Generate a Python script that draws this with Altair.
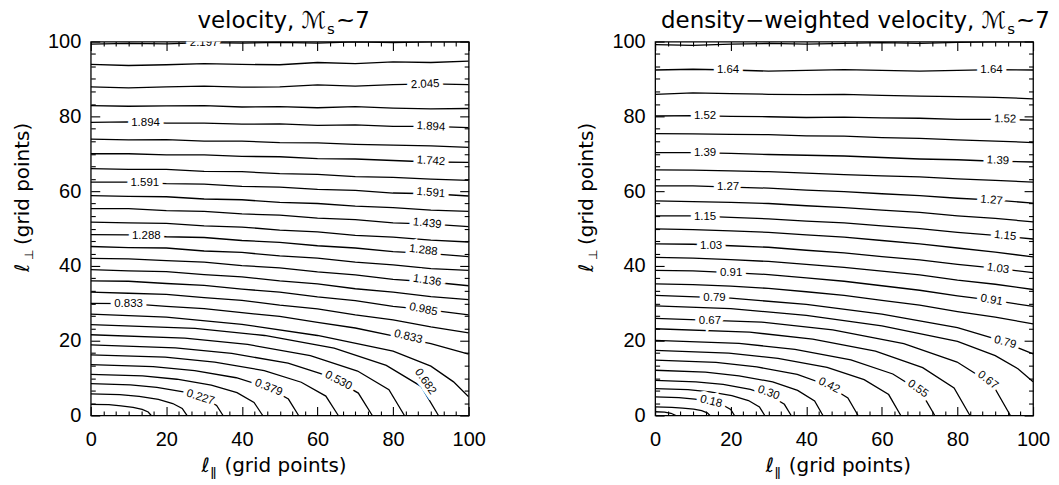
import altair as alt
import pandas as pd

W, H = 379, 375
NUM_FONT = "Liberation Sans, DejaVu Sans"
TXT_FONT = "DejaVu Sans"

X_GRID = [0, 10, 20, 30, 40, 50, 60, 70, 80, 90, 100]

# ---------------- left panel: velocity ----------------
VEL_FULL_Y = {
    29: [99.3, 99.5, 99.4, 99.7, 99.6, 99.8, 99.6, 99.9, 99.7, 99.9, 99.9],
    28: [93.9, 93.6, 93.8, 94.1, 93.9, 93.8, 94.4, 94.1, 94.6, 94.4, 94.8],
    27: [87.9, 87.6, 87.9, 88.1, 87.8, 87.9, 88.4, 88.1, 88.5, 88.7, 88.5],
    26: [82.9, 82.7, 82.8, 82.9, 82.5, 82.6, 82.3, 82.6, 82.2, 82.0, 82.1],
    25: [78.4, 78.5, 78.2, 78.2, 77.9, 78.0, 77.6, 77.7, 77.3, 77.3, 77.0],
    24: [73.9, 73.7, 73.8, 73.4, 73.4, 73.0, 72.9, 72.5, 72.3, 72.1, 71.7],
    23: [70.0, 70.0, 69.7, 69.7, 69.3, 69.2, 68.7, 68.6, 68.2, 67.8, 67.7],
    22: [66.0, 65.8, 65.8, 65.3, 65.2, 64.7, 64.5, 63.9, 63.7, 63.2, 62.9],
    21: [62.4, 62.4, 62.0, 61.9, 61.3, 61.1, 60.5, 60.2, 59.5, 59.3, 58.7],
    20: [58.8, 58.6, 58.5, 57.9, 57.7, 57.0, 56.7, 56.0, 55.6, 54.9, 54.6],
    19: [55.3, 55.3, 54.8, 54.6, 53.9, 53.6, 52.8, 52.4, 51.5, 51.2, 50.5],
    18: [51.7, 51.5, 51.4, 50.7, 50.4, 49.6, 49.1, 48.2, 47.7, 46.9, 46.4],
    17: [48.4, 48.3, 47.8, 47.6, 46.8, 46.3, 45.4, 44.8, 43.8, 43.3, 42.5],
    16: [45.2, 44.9, 44.8, 44.0, 43.6, 42.7, 42.1, 41.0, 40.3, 39.3, 38.8],
    15: [42.0, 41.9, 41.4, 41.0, 40.1, 39.5, 38.4, 37.6, 36.4, 35.7, 34.7],
    14: [39.0, 38.7, 38.5, 37.7, 37.1, 36.0, 35.2, 33.9, 33.0, 31.8, 31.0],
    13: [36.0, 35.9, 35.3, 34.8, 33.8, 33.0, 31.7, 30.7, 29.2, 28.2, 26.9],
    12: [33.0, 32.7, 32.4, 31.5, 30.8, 29.5, 28.5, 26.9, 25.6, 23.7, 22.1],
    11: [30.0, 29.9, 29.2, 28.6, 27.5, 26.5, 24.9, 23.4, 21.3, 19.2, 16.4],
}
VEL_CURVES = {
    10: [(0, 27.1), (20, 26.3), (40, 24.4), (60, 21.4), (80, 17.2), (90, 13.2), (96, 9.0), (100, 5.0)],
    9: [(0, 24.3), (27.6, 23.3), (46, 21.4), (64.4, 18.0), (78.2, 13.4), (87.4, 7.8), (92, 0)],
    8: [(0, 21.6), (24.9, 20.7), (41.5, 19.0), (58.1, 16.0), (70.6, 11.9), (78.9, 6.9), (83, 0)],
    7: [(0, 18.9), (22.4, 18.1), (37.3, 16.6), (52.2, 14.0), (63.3, 10.4), (70.8, 6.0), (74.5, 0)],
    6: [(0, 16.2), (19.7, 15.6), (32.8, 14.3), (45.9, 12.0), (55.7, 8.9), (62.2, 5.2), (65.5, 0)],
    5: [(0, 13.6), (16.5, 13.1), (27.5, 12.0), (38.5, 10.1), (46.8, 7.5), (52.3, 4.4), (55, 0)],
    4: [(0, 11.0), (13.7, 10.6), (22.8, 9.7), (31.9, 8.1), (38.7, 6.1), (43.2, 3.5), (45.5, 0)],
    3: [(0, 8.5), (10.5, 8.2), (17.5, 7.5), (24.5, 6.3), (29.8, 4.7), (33.3, 2.7), (35, 0)],
    2: [(0, 5.8), (7.7, 5.6), (12.8, 5.1), (17.9, 4.3), (21.7, 3.2), (24.2, 1.9), (25.5, 0)],
    1: [(0, 3.0), (4.8, 2.9), (8, 2.6), (11.2, 2.2), (13.6, 1.65), (15.2, 0.95), (16, 0)],
}
VEL_LABEL_TEXT = ["2.197", "1.894", "1.591", "1.288", "0.833",
                  "2.045", "1.894", "1.742", "1.591", "1.439", "1.288", "1.136",
                  "0.985", "0.833", "0.682", "0.530", "0.379", "0.227"]
VEL_LABEL_X = [30, 14.5, 14.3, 14.7, 10,
               88.5, 90, 90, 90, 89, 88, 89, 88, 84, 88.5, 65.5, 47, 29]
VEL_LABEL_Y = [99.7, 78.3, 62.2, 48.1, 29.8,
               88.5, 77.2, 68.0, 59.5, 51.3, 44.1, 36.0, 28.3, 21.0, 9.0, 9.3, 7.4, 4.8]
VEL_LABEL_ANGLE = [0, 0, 0, 0, 0,
                   357, 3, 4, 5, 6, 7, 9, 12, 14, 55, 28, 22, 18]

# ---------------- right panel: density-weighted velocity ----------------
DW_FULL_Y = {
    28: [99.2, 99.0, 99.3, 99.5, 99.3, 99.5, 99.7, 99.5, 99.8, 99.9, 99.9],
    27: [92.4, 92.6, 92.4, 92.1, 92.3, 92.5, 92.3, 92.1, 92.3, 92.5, 92.4],
    26: [85.9, 86.3, 86.1, 85.9, 85.8, 85.9, 85.6, 85.4, 85.3, 85.1, 84.7],
    25: [80.1, 80.2, 80.0, 79.9, 79.7, 79.8, 79.6, 79.5, 79.2, 79.2, 79.0],
    24: [75.4, 75.3, 75.2, 75.1, 74.8, 74.7, 74.3, 74.1, 73.7, 73.4, 73.0],
    23: [70.3, 70.3, 70.1, 69.8, 69.6, 69.4, 69.0, 68.6, 68.4, 68.0, 67.8],
    22: [65.7, 65.6, 65.4, 65.2, 64.8, 64.4, 64.1, 63.8, 63.3, 62.9, 62.4],
    21: [61.4, 61.4, 61.1, 60.8, 60.3, 59.9, 59.3, 58.8, 58.1, 57.6, 56.8],
    20: [57.4, 57.2, 57.0, 56.7, 56.1, 55.6, 54.9, 54.3, 53.4, 52.7, 51.8],
    19: [53.4, 53.4, 53.0, 52.6, 52.0, 51.5, 50.7, 50.0, 49.0, 48.2, 47.2],
    18: [49.9, 49.7, 49.4, 49.0, 48.3, 47.7, 46.8, 45.9, 44.8, 43.7, 42.4],
    17: [45.9, 45.8, 45.4, 45.0, 44.2, 43.5, 42.5, 41.6, 40.4, 39.4, 38.2],
    16: [42.3, 42.1, 41.7, 41.2, 40.4, 39.6, 38.6, 37.6, 36.2, 35.1, 33.7],
    15: [38.8, 38.7, 38.2, 37.7, 36.8, 35.9, 34.7, 33.5, 32.0, 30.7, 29.2],
    14: [35.2, 35.0, 34.6, 34.0, 33.1, 32.1, 30.8, 29.5, 27.8, 26.3, 24.5],
}
DW_CURVES = {
    13: [(0, 32.1), (20, 31.4), (40, 29.7), (60, 27.1), (80, 23.5), (90, 20.5), (100, 16.5)],
    12: [(0, 29.3), (20, 28.6), (40, 26.8), (60, 24.0), (80, 19.8), (90, 16.0), (96, 12.5), (100, 9.0)],
    11: [(0, 26.0), (28.2, 25.0), (47, 22.9), (65.8, 19.2), (79.9, 14.3), (89.3, 8.3), (94, 0)],
    10: [(0, 23.2), (25, 22.3), (41.7, 20.4), (58.3, 17.2), (70.8, 12.8), (79.1, 7.4), (83.3, 0)],
    9: [(0, 20.1), (22.2, 19.3), (37, 17.7), (51.8, 14.9), (62.9, 11.1), (70.3, 6.4), (74, 0)],
    8: [(0, 17.4), (19.5, 16.7), (32.5, 15.3), (45.5, 12.9), (55.3, 9.6), (61.8, 5.6), (65, 0)],
    7: [(0, 14.8), (16.1, 14.2), (26.9, 13.0), (37.6, 11.0), (45.6, 8.1), (51.0, 4.7), (53.7, 0)],
    6: [(0, 12.1), (13.3, 11.6), (22.2, 10.6), (31.1, 9.0), (37.7, 6.7), (42.2, 3.9), (44.4, 0)],
    5: [(0, 9.4), (10.8, 9.0), (18, 8.3), (25.2, 7.0), (30.6, 5.2), (34.2, 3.0), (36, 0)],
    4: [(0, 7.2), (8.7, 6.9), (14.5, 6.3), (20.3, 5.3), (24.7, 4.0), (27.6, 2.3), (29, 0)],
    3: [(0, 5.0), (6.3, 4.8), (10.5, 4.4), (14.7, 3.7), (17.9, 2.8), (20, 1.6), (21, 0)],
    2: [(0, 2.3), (4.4, 2.2), (7.3, 2.0), (10.2, 1.7), (12.3, 1.3), (13.8, 0.7), (14.5, 0)],
    1: [(0, 1.0), (2.5, 0.9), (4.2, 0.6), (5.5, 0)],
}
DW_LABEL_TEXT = ["1.64", "1.52", "1.39", "1.27", "1.15", "1.03", "0.91", "0.79", "0.67",
                 "1.64", "1.52", "1.39", "1.27", "1.15", "1.03", "0.91", "0.79",
                 "0.67", "0.55", "0.42", "0.30", "0.18"]
DW_LABEL_X = [19.3, 13.2, 13.2, 19.3, 13.2, 14.8, 20.1, 15.7, 14.5,
              89, 92.6, 90.7, 89, 92.6, 90.7, 89, 92.6,
              88, 69.5, 46, 30, 14.8]
DW_LABEL_Y = [92.4, 80.0, 70.2, 61.1, 53.1, 45.4, 38.2, 31.5, 25.2,
              92.3, 79.2, 68.1, 57.5, 48.0, 39.2, 30.8, 19.5,
              9.4, 7.1, 8.0, 6.0, 3.7]
DW_LABEL_ANGLE = [0, 0, 0, 0, 0, 0, 0, 0, 0,
                  0, 1, 3, 5, 7, 8, 10, 15,
                  38, 35, 26, 20, 14]

AXIS_MAJOR = [0, 20, 40, 60, 80, 100]
AXIS_ALL = [0, 3.333, 6.667, 10, 13.333, 16.667, 20, 23.333, 26.667, 30, 33.333, 36.667,
            40, 43.333, 46.667, 50, 53.333, 56.667, 60, 63.333, 66.667, 70, 73.333,
            76.667, 80, 83.333, 86.667, 90, 93.333, 96.667, 100]

TICK_SIZE = {"condition": {"test": "abs(datum.value - round(datum.value / 20) * 20) < 0.01",
                           "value": 9}, "value": 4.5}


def lines_frame(full_y, curves):
    rows = []
    for k, ys in full_y.items():
        for i, (x, y) in enumerate(zip(X_GRID, ys)):
            rows.append({"level": k, "order": i, "x": x, "y": y})
    for k, pts in curves.items():
        for i, (x, y) in enumerate(pts):
            rows.append({"level": k, "order": i, "x": x, "y": y})
    return pd.DataFrame(rows)


def label_frame(texts, xs, ys, angles):
    return pd.DataFrame({"text": texts, "x": xs, "y": ys, "angle": angles})


SC = alt.Scale(domain=[0, 100], nice=False, zero=False)


def ax_labels(orient):
    return alt.Axis(orient=orient, values=AXIS_MAJOR, ticks=False, domain=False, grid=False,
                    labelFont=NUM_FONT, labelFontSize=20, labelColor="black",
                    labelPadding=14 if orient == "bottom" else 10, labelFlush=False,
                    labelOverlap=False, title=None)


def ax_ticks(orient, offset):
    return alt.Axis(orient=orient, offset=offset, values=AXIS_ALL, labels=False, domain=False,
                    grid=False, ticks=True, tickSize=TICK_SIZE, tickColor="black",
                    tickWidth=1.1, title=None)


def text_layer(txt, x, y, size, align, angle=0):
    mk = dict(align=align, baseline="alphabetic", fontSize=size, font=TXT_FONT, color="black")
    if angle:
        mk["angle"] = angle
    return alt.Chart(pd.DataFrame({"t": [txt]})).mark_text(**mk).encode(
        x=alt.value(x), y=alt.value(y), text="t:N")


def panel(lines_df, labels_df, title_main, title_x):
    lines = alt.Chart(lines_df).mark_line(color="black", strokeWidth=1.3, clip=True).encode(
        x=alt.X("x:Q", scale=SC, axis=ax_labels("bottom")),
        y=alt.Y("y:Q", scale=SC, axis=ax_labels("left")),
        detail="level:N",
        order="order:Q",
    )
    halo = alt.Chart(labels_df).mark_text(
        fontSize=11.5, font=NUM_FONT, color="white", stroke="white", strokeWidth=8,
        clip=True).encode(
        x=alt.X("x:Q", scale=SC, axis=ax_ticks("top", -H)),
        y=alt.Y("y:Q", scale=SC, axis=ax_ticks("right", -W)),
        angle=alt.Angle("angle:Q", scale=None),
        text="text:N",
    )
    labels = alt.Chart(labels_df).mark_text(
        fontSize=11.5, font=NUM_FONT, color="black", clip=True).encode(
        x=alt.X("x:Q", scale=SC, axis=ax_ticks("bottom", -H)),
        y=alt.Y("y:Q", scale=SC, axis=ax_ticks("left", -W)),
        angle=alt.Angle("angle:Q", scale=None),
        text="text:N",
    )
    texts = [
        text_layer(title_main, title_x, -14, 23, "right"),
        text_layer("s", title_x + 1, -8, 15, "left"),
        text_layer("~7", title_x + 10, -14, 23, "left"),
        # x axis title
        text_layer("ℓ", 111, 432, 20, "left"),
        text_layer("ǁ", 120, 436, 12, "left"),
        text_layer("(grid points)", 134, 432, 20, "left"),
        # y axis title (rotated)
        text_layer("ℓ", -62, 231, 20, "left", angle=270),
        text_layer("⊥", -58, 219, 12, "left", angle=270),
        text_layer("(grid points)", -62, 204, 20, "left", angle=270),
    ]
    return alt.layer(lines, halo, labels, *texts).resolve_axis(
        x="independent", y="independent").properties(width=W, height=H)


left = panel(lines_frame(VEL_FULL_Y, VEL_CURVES),
             label_frame(VEL_LABEL_TEXT, VEL_LABEL_X, VEL_LABEL_Y, VEL_LABEL_ANGLE),
             "velocity, ℳ", 236)
right = panel(lines_frame(DW_FULL_Y, DW_CURVES),
              label_frame(DW_LABEL_TEXT, DW_LABEL_X, DW_LABEL_Y, DW_LABEL_ANGLE),
              "density−weighted velocity, ℳ", 352)

chart = alt.hconcat(left, right, spacing=187, bounds="flush").properties(
    padding={"left": 4, "top": 0, "right": 0, "bottom": 0},
    background="white",
).configure_view(stroke="black", strokeWidth=1.3)

chart.save("out.html", embed_options={"renderer": "svg", "actions": False})
